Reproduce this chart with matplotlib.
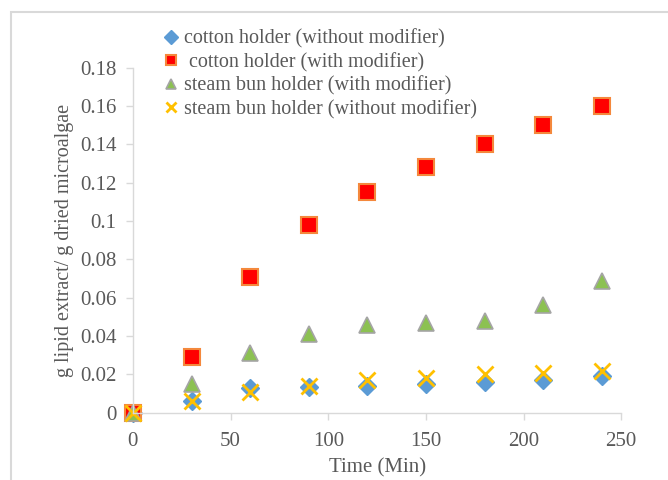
import matplotlib
matplotlib.use('Agg')
import matplotlib.pyplot as plt
from matplotlib.patches import Rectangle

plt.rcParams['font.family'] = ['Liberation Serif', 'DejaVu Serif']

time = [0, 30, 60, 90, 120, 150, 180, 210, 240]
cotton_without = [0, 0.006, 0.013, 0.0135, 0.014, 0.015, 0.016, 0.017, 0.019]
cotton_with = [0, 0.029, 0.071, 0.098, 0.115, 0.128, 0.140, 0.150, 0.160]
bun_with = [0, 0.015, 0.031, 0.041, 0.046, 0.047, 0.048, 0.056, 0.069]
bun_without = [0, 0.006, 0.011, 0.014, 0.017, 0.018, 0.020, 0.021, 0.022]

names = ['cotton holder (without modifier)', ' cotton holder (with modifier)',
         'steam bun holder (with modifier)', 'steam bun holder (without modifier)']

xticks = [0, 50, 100, 150, 200, 250]
yticks = [0, 0.02, 0.04, 0.06, 0.08, 0.1, 0.12, 0.14, 0.16, 0.18]
ytick_labels = ['0', '0.02', '0.04', '0.06', '0.08', '0.1', '0.12', '0.14', '0.16', '0.18']

grey = '#d9d9d9'
txt = '#595959'

fig = plt.figure(figsize=(6.68, 4.8), dpi=100)
ax = fig.add_axes([0.199, 0.140, 0.731, 0.719])

# rahmen um die grafik
fig.patches.append(Rectangle((0.0165, -0.1), 1.2, 1.075, transform=fig.transFigure,
                             fill=False, edgecolor=grey, linewidth=1.5))

ax.plot(time, cotton_without, linestyle='none', marker='D', markersize=9,
        color='#5b9bd5', markeredgecolor='#5b9bd5', label=names[0], clip_on=False)
ax.plot(time, cotton_with, linestyle='none', marker='s', markersize=12,
        color='#ff0000', markeredgecolor='#f4883c', markeredgewidth=1.5, label=names[1], clip_on=False)
ax.plot(time, bun_with, linestyle='none', marker='^', markersize=12,
        color='#8cc152', markeredgecolor='#a5a5a5', markeredgewidth=1.2, label=names[2], clip_on=False)
ax.plot(time, bun_without, linestyle='none', marker='x', markersize=11,
        color='#ffc000', markeredgewidth=2, label=names[3], clip_on=False)

ax.set_xlim(0, 250)
ax.set_ylim(0, 0.18)
ax.set_xticks(xticks)
ax.set_yticks(yticks)
ax.set_yticklabels(ytick_labels)

for s in ['top', 'right']:
    ax.spines[s].set_visible(False)
for s in ['left', 'bottom']:
    ax.spines[s].set_color(grey)
    ax.spines[s].set_linewidth(1)
ax.tick_params(colors=grey, labelcolor=txt, labelsize=15, length=5, width=1)
ax.tick_params(axis='x', pad=9)
ax.tick_params(axis='y', pad=7)

ax.set_xlabel('Time (Min)', fontsize=15, color=txt, labelpad=5)
ax.set_ylabel('g lipid extract/ g dried microalgae', fontsize=14.5, color=txt, labelpad=4)

leg = ax.legend(loc='upper left', bbox_to_anchor=(0.05, 1.134), frameon=False,
                fontsize=14.5, handlelength=0.6, handletextpad=0.3, labelspacing=0.2,
                borderaxespad=0, labelcolor=txt)
for h in leg.legend_handles:
    h.set_markersize(7)

fig.savefig('out.png', dpi=100, facecolor='white')
